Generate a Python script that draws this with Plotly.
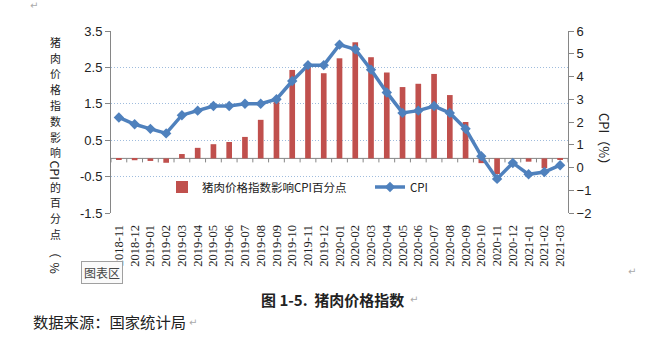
import plotly.graph_objects as go

# ---------------- data ----------------
months = ["2018-11", "2018-12",
          "2019-01", "2019-02", "2019-03", "2019-04", "2019-05", "2019-06",
          "2019-07", "2019-08", "2019-09", "2019-10", "2019-11", "2019-12",
          "2020-01", "2020-02", "2020-03", "2020-04", "2020-05", "2020-06",
          "2020-07", "2020-08", "2020-09", "2020-10", "2020-11", "2020-12",
          "2021-01", "2021-02", "2021-03"]

pork_impact = [-0.03, -0.05, -0.07, -0.12, 0.12, 0.29, 0.39, 0.45,
               0.59, 1.06, 1.58, 2.43, 2.54, 2.34,
               2.75, 3.19, 2.78, 2.36, 1.96, 2.05,
               2.32, 1.74, 1.00, -0.13, -0.43, 0.0,
               -0.09, -0.27, -0.04]

cpi = [2.2, 1.9, 1.7, 1.5, 2.3, 2.5, 2.7, 2.7,
       2.8, 2.8, 3.0, 3.8, 4.5, 4.5,
       5.4, 5.2, 4.3, 3.3, 2.4, 2.5,
       2.7, 2.4, 1.7, 0.5, -0.5, 0.2,
       -0.3, -0.2, 0.1]

left_ticks = [-1.5, -0.5, 0.5, 1.5, 2.5, 3.5]
right_ticks = [-2, -1, 0, 1, 2, 3, 4, 5, 6]

bar_name = "猪肉价格指数影响CPI百分点"
line_name = "CPI"
left_title = "猪肉价格指数影响CPI的百分点（%"
right_title = "CPI（%）"
caption = "图 1-5.  猪肉价格指数"
source = "数据来源：国家统计局"

# ---------------- layout helpers ----------------
W, H = 646, 337
L, R, T, B = 111, 568, 31, 213   # plot area in pixels


def px_x(x):
    return (x - L) / (R - L)


def px_y(y):
    return (B - y) / (B - T)


BAR_COLOR = "#C0504D"
LINE_COLOR = "#4F81BD"
AXIS_COLOR = "#868686"
GRID_COLOR = "#9FBCDD"
CJK = "Noto Sans CJK SC"

fig = go.Figure()
fig.add_trace(go.Bar(
    x=months, y=pork_impact, name=bar_name,
    marker=dict(color=BAR_COLOR, line=dict(width=0)),
    yaxis="y",
))
fig.add_trace(go.Scatter(
    x=months, y=cpi, name=line_name, mode="lines+markers",
    line=dict(color=LINE_COLOR, width=3.5),
    marker=dict(symbol="diamond", size=8, color=LINE_COLOR),
    yaxis="y2",
))

shapes = []
# category axis crossing at zero of the left axis, with boundary ticks
shapes.append(dict(type="line", xref="x", yref="y", x0=-0.5, x1=len(months) - 0.5,
                   y0=0, y1=0, line=dict(color=AXIS_COLOR, width=1), layer="below"))
for i in range(len(months) + 1):
    shapes.append(dict(type="line", xref="x", yref="y", ysizemode="pixel", yanchor=0,
                       x0=i - 0.5, x1=i - 0.5, y0=0, y1=-4,
                       line=dict(color=AXIS_COLOR, width=1), layer="below"))

annotations = []
# vertical left title: upright CJK characters one per slot, Latin runs rotated
runs = []
buf = ""
for ch in left_title:
    if ch.isascii() and ch.isalpha():
        buf += ch
        continue
    if buf:
        runs.append((buf, True))
        buf = ""
    runs.append((ch, ch in "（%"))
if buf:
    runs.append((buf, True))

TFS = 10.9
STEP = 15.8
y = 41.7
for text, rotated in runs:
    if rotated and len(text) > 1:
        h = 18.5
        cy = y - STEP / 2 + h / 2
        y += h
    elif rotated:
        cy = y + 2
        y += STEP
    else:
        cy = y
        y += STEP
    annotations.append(dict(
        text=text, xref="paper", yref="paper", x=px_x(55), y=px_y(cy),
        showarrow=False, textangle=90 if rotated else 0,
        font=dict(family=CJK, size=TFS + (1.5 if rotated else 0), color="#222"),
        xanchor="center", yanchor="middle"))

# right title
annotations.append(dict(
    text=right_title, xref="paper", yref="paper", x=px_x(605), y=px_y(142),
    showarrow=False, textangle=90, font=dict(family=CJK, size=13, color="#222"),
    xanchor="center", yanchor="middle"))

# chart-area tooltip
annotations.append(dict(
    text="图表区", xref="paper", yref="paper", x=px_x(102), y=px_y(272),
    showarrow=False, font=dict(family=CJK, size=12, color="#444"),
    bgcolor="#FAFAFA", bordercolor="#A0A0A0", borderwidth=1, borderpad=2,
    xanchor="center", yanchor="middle"))

# caption and source
annotations.append(dict(
    text="<b>" + caption + "</b>", xref="paper", yref="paper", x=px_x(259), y=px_y(299),
    showarrow=False, font=dict(family=CJK, size=15, color="#222"),
    xanchor="left", yanchor="middle"))
annotations.append(dict(
    text=source, xref="paper", yref="paper", x=px_x(31), y=px_y(321),
    showarrow=False, font=dict(family=CJK, size=15.3, color="#222"),
    xanchor="left", yanchor="middle"))

# paragraph marks
for (mx, my) in [(34, 5), (632, 271), (414, 299), (193, 322)]:
    annotations.append(dict(
        text="↵", xref="paper", yref="paper", x=px_x(mx), y=px_y(my),
        showarrow=False, font=dict(family="DejaVu Sans", size=10, color="#AAAAAA"),
        xanchor="center", yanchor="middle"))

fig.update_layout(
    width=W, height=H,
    margin=dict(l=L, r=W - R, t=T, b=H - B, pad=0),
    paper_bgcolor="white", plot_bgcolor="white",
    bargap=0.64,
    showlegend=True,
    legend=dict(orientation="h", x=px_x(162), y=px_y(187), xanchor="left", yanchor="middle",
                font=dict(family=CJK, size=11.5, color="#222"),
                entrywidth=163, entrywidthmode="pixels",
                bgcolor="rgba(0,0,0,0)", itemwidth=30),
    xaxis=dict(type="category", categoryorder="array", categoryarray=months,
               range=[-0.5, len(months) - 0.5],
               tickangle=-90, tickfont=dict(family="Liberation Serif", size=12.5, color="#222"),
               showgrid=False, showline=False, zeroline=False,
               ticks="outside", ticklen=6, tickcolor="rgba(0,0,0,0)"),
    yaxis=dict(range=[-1.5, 3.5], tickvals=left_ticks, ticktext=[str(v) for v in left_ticks],
               showgrid=True, gridcolor=GRID_COLOR, griddash="1px,2px", gridwidth=1,
               zeroline=False, showline=True, linecolor=AXIS_COLOR, linewidth=1,
               ticks="outside", ticklen=5, tickcolor=AXIS_COLOR,
               tickfont=dict(family="Liberation Sans", size=13, color="#222")),
    yaxis2=dict(range=[-2, 6], tickvals=right_ticks, overlaying="y", side="right",
                showgrid=False, zeroline=False, showline=True, linecolor=AXIS_COLOR,
                linewidth=1, ticks="outside", ticklen=5, tickcolor=AXIS_COLOR,
                tickfont=dict(family="Liberation Sans", size=13, color="#222")),
    shapes=shapes,
    annotations=annotations,
)

fig.write_html("out.html")
